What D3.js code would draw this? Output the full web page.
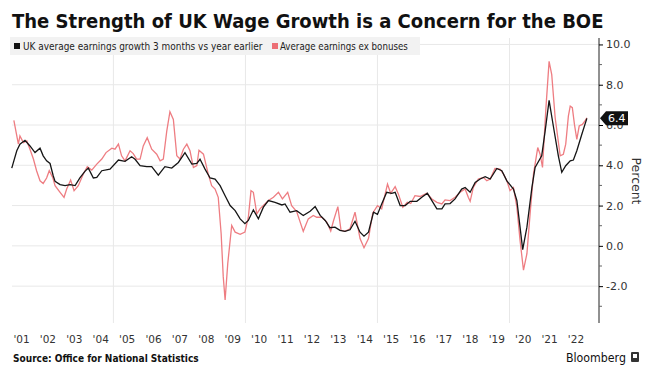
<html>
<head>
<meta charset="utf-8">
<script src="https://d3js.org/d3.v7.min.js"></script>
<style>
  body { margin: 0; background: #fff; }
  text { font-family: "DejaVu Sans", sans-serif; }
  .cond { font-family: "DejaVu Sans Condensed", "DejaVu Sans", sans-serif; font-stretch: condensed; }
</style>
</head>
<body>
<svg id="chart" width="655" height="378"></svg>
<script>
// UK average earnings growth 3 months vs year earlier (black)
var blackYears = [2001.15, 2001.34, 2001.46, 2001.65, 2001.84, 2002.03, 2002.22, 2002.34, 2002.47, 2002.60,
  2002.72, 2002.79, 2002.98, 2003.17, 2003.36, 2003.55, 2003.73, 2003.92, 2004.05, 2004.24,
  2004.37, 2004.56, 2004.87, 2005.19, 2005.44, 2005.69, 2005.82, 2006.01, 2006.26, 2006.45,
  2006.70, 2006.95, 2007.21, 2007.46, 2007.71, 2007.97, 2008.16, 2008.28, 2008.47, 2008.66,
  2008.85, 2009.04, 2009.23, 2009.42, 2009.61, 2009.80, 2009.98, 2010.11, 2010.30, 2010.49,
  2010.68, 2010.87, 2011.12, 2011.38, 2011.50, 2011.69, 2011.94, 2012.19, 2012.45, 2012.64,
  2012.83, 2013.02, 2013.20, 2013.39, 2013.58, 2013.77, 2013.96, 2014.15, 2014.34, 2014.49,
  2014.66, 2014.85, 2015.00, 2015.16, 2015.35, 2015.54, 2015.67, 2015.86, 2016.05, 2016.24,
  2016.49, 2016.68, 2016.89, 2017.06, 2017.25, 2017.44, 2017.56, 2017.75, 2017.94, 2018.19,
  2018.32, 2018.51, 2018.70, 2018.89, 2019.08, 2019.27, 2019.52, 2019.71, 2019.90, 2020.15,
  2020.28, 2020.40, 2020.50, 2020.66, 2020.85, 2020.97, 2021.22, 2021.35, 2021.50, 2021.66,
  2021.85, 2021.98, 2022.13, 2022.30, 2022.42, 2022.55, 2022.74, 2022.93];
var blackValues = [3.86, 4.72, 5.05, 5.24, 4.96, 4.63, 4.85, 4.47, 4.22, 4.09,
  3.48, 3.2, 3.04, 2.99, 3.04, 2.99, 3.37, 3.7, 3.86, 3.37,
  3.4, 3.73, 3.81, 4.26, 4.2, 4.42, 4.3, 3.98, 3.93, 3.93,
  3.51, 3.93, 3.86, 4.14, 4.63, 4.06, 4.09, 4.3, 3.81, 3.37,
  3.32, 2.99, 2.49, 2.0, 1.75, 1.34, 1.1, 1.26, 1.79, 1.34,
  1.92, 2.25, 2.16, 2.03, 2.08, 1.67, 1.75, 1.51, 1.72, 1.95,
  1.51, 1.26, 0.9, 0.93, 0.77, 0.72, 0.8, 1.22, 0.68, 0.48,
  0.68, 1.67, 1.56, 2.08, 2.66, 2.61, 2.66, 2.0, 2.0, 2.21,
  2.21, 2.41, 2.61, 2.25, 1.84, 1.84, 2.08, 2.1, 2.33, 2.82,
  2.9, 2.66, 3.15, 3.32, 3.43, 3.32, 3.84, 3.73, 3.23, 2.82,
  2.25, 0.93, -0.19, 0.93, 2.9, 3.89, 4.47, 5.7, 7.22, 5.95,
  4.47, 3.65, 3.98, 4.22, 4.26, 4.72, 5.54, 6.33];

// Average earnings ex bonuses (red)
var redYears = [2001.23, 2001.40, 2001.46, 2001.59, 2001.72, 2001.84, 2001.97, 2002.09, 2002.22, 2002.34,
  2002.47, 2002.57, 2002.70, 2002.79, 2002.98, 2003.13, 2003.23, 2003.38, 2003.51, 2003.67,
  2003.86, 2004.01, 2004.18, 2004.37, 2004.56, 2004.72, 2004.94, 2005.06, 2005.19, 2005.31,
  2005.44, 2005.63, 2005.75, 2005.88, 2006.01, 2006.13, 2006.28, 2006.45, 2006.64, 2006.77,
  2006.89, 2007.02, 2007.14, 2007.27, 2007.40, 2007.52, 2007.65, 2007.78, 2007.90, 2008.03,
  2008.16, 2008.24, 2008.41, 2008.59, 2008.72, 2008.85, 2008.97, 2009.08, 2009.16, 2009.23,
  2009.33, 2009.48, 2009.61, 2009.80, 2009.98, 2010.11, 2010.21, 2010.30, 2010.43, 2010.55,
  2010.68, 2010.87, 2011.06, 2011.25, 2011.40, 2011.60, 2011.75, 2011.94, 2012.19, 2012.38,
  2012.57, 2012.70, 2012.89, 2013.08, 2013.23, 2013.33, 2013.50, 2013.62, 2013.77, 2013.96,
  2014.15, 2014.34, 2014.49, 2014.66, 2014.82, 2015.00, 2015.16, 2015.38, 2015.50, 2015.67,
  2015.79, 2015.96, 2016.13, 2016.26, 2016.42, 2016.61, 2016.87, 2017.06, 2017.25, 2017.44,
  2017.56, 2017.75, 2017.94, 2018.13, 2018.32, 2018.44, 2018.51, 2018.63, 2018.82, 2019.01,
  2019.14, 2019.27, 2019.45, 2019.64, 2019.77, 2019.90, 2020.02, 2020.15, 2020.28, 2020.40,
  2020.53, 2020.66, 2020.78, 2020.91, 2021.07, 2021.16, 2021.25, 2021.38, 2021.50, 2021.60,
  2021.73, 2021.92, 2022.04, 2022.13, 2022.23, 2022.30, 2022.38, 2022.46, 2022.55, 2022.64,
  2022.76, 2022.86, 2022.93];
var redValues = [6.23, 5.05, 5.46, 5.13, 5.21, 4.8, 4.31, 3.73, 3.23, 3.1,
  3.37, 3.73, 3.4, 2.99, 2.66, 2.41, 2.82, 3.27, 2.74, 2.99,
  3.57, 3.93, 3.76, 4.06, 4.31, 4.63, 4.85, 4.8, 5.05, 4.47,
  4.22, 4.72, 4.58, 4.31, 4.31, 4.96, 5.37, 4.8, 4.55, 4.22,
  4.31, 5.7, 6.66, 6.28, 4.47, 4.31, 4.8, 5.05, 4.72, 3.89,
  3.98, 4.75, 4.55, 3.57, 2.99, 2.82, 2.41, 0.6, -1.54, -2.69,
  -0.88, 1.01, 0.68, 0.57, 0.68, 1.42, 2.74, 2.66, 1.59, 1.84,
  2.0, 2.25, 2.41, 2.66, 2.33, 2.66, 2.0, 1.7, 0.72, 1.34,
  1.51, 1.42, 1.42, 1.18, 0.73, 1.22, 1.95, 0.77, 0.72, 0.85,
  1.67, 0.36, -0.09, 0.36, 1.62, 2.0, 1.84, 3.07, 2.61, 2.94,
  2.58, 1.92, 2.16, 2.1, 2.49, 2.45, 2.61, 2.33, 2.16, 2.08,
  2.28, 2.25, 2.41, 2.66, 2.82, 2.41, 2.21, 2.9, 3.32, 3.4,
  3.23, 3.32, 3.84, 3.81, 3.57, 3.23, 2.74, 2.9, 1.92, 0.27,
  -1.21, -0.39, 1.59, 3.57, 4.88, 4.55, 3.89, 6.85, 9.16, 8.5,
  6.36, 4.47, 4.55, 5.05, 6.44, 6.94, 6.86, 6.03, 5.29, 5.95,
  6.03, 6.2, 6.36];

var yMajor = [-2, 0, 2, 4, 6, 8, 10];
var yMinor = [-3, -1, 1, 3, 5, 7, 9];
var gridYears = [2005, 2010, 2015, 2020];
var labelYears = d3.range(2001, 2023);
var lastLabel = "6.4";

var svg = d3.select("#chart");
var plotLeft = 12, plotRight = 599, plotTop = 38, plotBottom = 323;

var x = d3.scaleLinear().domain([2001, 2023.39]).range([7.8, plotRight]);
var y = d3.scaleLinear().domain([-3.83, 10.32]).range([plotBottom, plotTop]);

// grid
svg.append("g").selectAll("line").data(yMajor).enter().append("line")
  .attr("x1", plotLeft).attr("x2", plotRight)
  .attr("y1", function(d) { return y(d); }).attr("y2", function(d) { return y(d); })
  .attr("stroke", "#e8e8e8").attr("stroke-width", 1);
svg.append("g").selectAll("line").data(gridYears).enter().append("line")
  .attr("x1", function(d) { return x(d); }).attr("x2", function(d) { return x(d); })
  .attr("y1", plotTop).attr("y2", plotBottom)
  .attr("stroke", "#e8e8e8").attr("stroke-width", 1);

// legend band
svg.append("rect").attr("x", 10).attr("y", 37).attr("width", 410).attr("height", 18).attr("fill", "#f2f2f2");
svg.append("rect").attr("x", 14).attr("y", 43).attr("width", 6).attr("height", 6).attr("fill", "#111");
var l1 = svg.append("text").attr("class", "cond").attr("x", 23).attr("y", 50)
  .attr("font-size", 11).attr("fill", "#222").text("UK average earnings growth 3 months vs year earlier");
fitWidth(l1, 240);
svg.append("rect").attr("x", 272).attr("y", 43).attr("width", 6).attr("height", 6).attr("fill", "#ec6f75");
var l2 = svg.append("text").attr("class", "cond").attr("x", 280).attr("y", 50)
  .attr("font-size", 11).attr("fill", "#222").text("Average earnings ex bonuses");
fitWidth(l2, 128);

// lines
var line = d3.line().x(function(d) { return x(d[0]); }).y(function(d) { return y(d[1]); });
svg.append("path").datum(d3.zip(redYears, redValues)).attr("d", line)
  .attr("fill", "none").attr("stroke", "#ee7d82").attr("stroke-width", 1.3);
svg.append("path").datum(d3.zip(blackYears, blackValues)).attr("d", line)
  .attr("fill", "none").attr("stroke", "#151515").attr("stroke-width", 1.3);

// right axis
var yAxis = svg.append("g").attr("transform", "translate(" + plotRight + ",0)")
  .call(d3.axisRight(y).tickValues(yMajor).tickSize(4).tickPadding(3)
    .tickFormat(function(d) { return d.toFixed(1); }));
yAxis.select(".domain").attr("d", "M0," + plotTop + "V" + plotBottom).attr("stroke", "#222");
yAxis.selectAll("text").attr("font-size", 11).attr("fill", "#333").attr("font-family", "DejaVu Sans");
svg.append("g").selectAll("line").data(yMinor).enter().append("line")
  .attr("x1", plotRight).attr("x2", plotRight + 3)
  .attr("y1", function(d) { return y(d); }).attr("y2", function(d) { return y(d); })
  .attr("stroke", "#666");

svg.append("text").attr("transform", "translate(632,181) rotate(90)")
  .attr("text-anchor", "middle").attr("font-size", 12.5).attr("fill", "#333").text("Percent");

// last value tag
var ly = y(blackValues[blackValues.length - 1]);
svg.append("path").attr("d", "M600," + ly + "L606," + (ly - 7) + "H628V" + (ly + 7) + "H606Z").attr("fill", "#111");
svg.append("text").attr("x", 608).attr("y", ly + 4).attr("font-size", 11).attr("fill", "#fff").text(lastLabel);

// x labels
var xAxis = svg.append("g").attr("transform", "translate(0,336)")
  .call(d3.axisBottom(x).tickValues(labelYears.map(function(d) { return d + 0.5; })).tickSize(0).tickPadding(0)
    .tickFormat(function(d) { return "'" + String(Math.floor(d)).slice(2); }));
xAxis.select(".domain").remove();
xAxis.selectAll("text").attr("font-size", 10.5).attr("fill", "#333").attr("font-family", "DejaVu Sans");

// title and footer
var title = svg.append("text").attr("class", "cond").attr("x", 12).attr("y", 28)
  .attr("font-size", 20).attr("font-weight", "bold").attr("fill", "#111")
  .text("The Strength of UK Wage Growth is a Concern for the BOE");
fitWidth(title, 592);
var src = svg.append("text").attr("class", "cond").attr("x", 13).attr("y", 362)
  .attr("font-size", 10).attr("font-weight", "bold").attr("fill", "#111")
  .text("Source: Office for National Statistics");
fitWidth(src, 186);
var bb = svg.append("text").attr("class", "cond").attr("x", 566).attr("y", 362)
  .attr("font-size", 12).attr("fill", "#111").text("Bloomberg");
fitWidth(bb, 60);
svg.append("rect").attr("x", 631).attr("y", 352).attr("width", 8).attr("height", 10).attr("rx", 1).attr("fill", "#333");
svg.append("rect").attr("x", 633).attr("y", 354).attr("width", 4).attr("height", 4).attr("fill", "#fff");

function fitWidth(t, w) {
  var len = t.node().getComputedTextLength();
  var fs = parseFloat(t.attr("font-size"));
  t.attr("font-size", fs * w / len);
}
</script>
</body>
</html>
